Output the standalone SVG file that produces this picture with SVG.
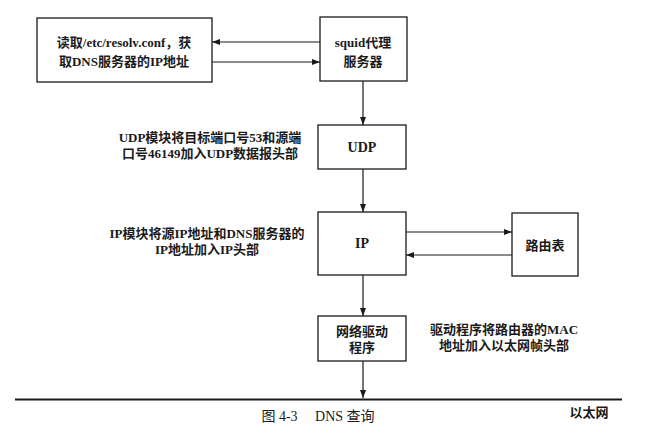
<svg xmlns="http://www.w3.org/2000/svg" width="665" height="442" viewBox="0 0 665 442">
<style>
.box{fill:#fff;stroke:#1a1a1a;stroke-width:1.3}
.ln{fill:none;stroke:#1a1a1a;stroke-width:1.2}
text{font-family:"Liberation Serif","Noto Sans CJK SC",serif;font-size:13px;font-weight:bold;fill:#1a1a1a}
.c{text-anchor:middle}
.big{font-size:14px}
.cap{font-weight:normal;font-size:14px}
</style>
<defs>
<marker id="ah" viewBox="0 0 8 6" refX="8" refY="3" markerWidth="8" markerHeight="6" markerUnits="userSpaceOnUse" orient="auto">
<path d="M0,0 L8,3 L0,6 Z" fill="#1a1a1a"/>
</marker>
</defs>
<rect width="665" height="442" fill="#fff"/>
<g id="connectors">
<line class="ln" x1="320" y1="42" x2="212" y2="42" marker-end="url(#ah)"/>
<line class="ln" x1="212" y1="62" x2="320" y2="62" marker-end="url(#ah)"/>
<line class="ln" x1="363" y1="81" x2="363" y2="125" marker-end="url(#ah)"/>
<line class="ln" x1="363" y1="169" x2="363" y2="212" marker-end="url(#ah)"/>
<line class="ln" x1="406" y1="232" x2="512" y2="232" marker-end="url(#ah)"/>
<line class="ln" x1="512" y1="255" x2="406" y2="255" marker-end="url(#ah)"/>
<line class="ln" x1="363" y1="275" x2="363" y2="316" marker-end="url(#ah)"/>
<line class="ln" x1="363" y1="361" x2="363" y2="398" marker-end="url(#ah)"/>
</g>
<g id="ethernet">
<line x1="15" y1="399.5" x2="622" y2="399.5" stroke="#1a1a1a" stroke-width="2"/>
<text x="589" y="417" class="c">以太网</text>
</g>
<g id="resolv">
<rect class="box" x="37" y="18" width="175" height="64"/>
<text x="124" y="47" class="c">读取/etc/resolv.conf，获</text>
<text x="124" y="66" class="c">取DNS服务器的IP地址</text>
</g>
<g id="squid">
<rect class="box" x="320" y="17" width="87" height="64"/>
<text x="363" y="47" class="c">squid代理</text>
<text x="363" y="66" class="c">服务器</text>
</g>
<g id="udp">
<rect class="box" x="318" y="125" width="88" height="44"/>
<text x="362" y="152" class="c big">UDP</text>
</g>
<g id="udp-note">
<text x="210" y="142" class="c">UDP模块将目标端口号53和源端</text>
<text x="210" y="158" class="c">口号46149加入UDP数据报头部</text>
</g>
<g id="ip">
<rect class="box" x="318" y="212" width="88" height="63"/>
<text x="362" y="248" class="c big">IP</text>
</g>
<g id="ip-note">
<text x="207" y="238" class="c">IP模块将源IP地址和DNS服务器的</text>
<text x="207" y="254" class="c">IP地址加入IP头部</text>
</g>
<g id="route">
<rect class="box" x="512" y="213" width="66" height="63"/>
<text x="545" y="250" class="c">路由表</text>
</g>
<g id="driver">
<rect class="box" x="318" y="316" width="88" height="45"/>
<text x="362" y="336" class="c">网络驱动</text>
<text x="362" y="352" class="c">程序</text>
</g>
<g id="driver-note">
<text x="504" y="334" class="c">驱动程序将路由器的MAC</text>
<text x="504" y="350" class="c">地址加入以太网帧头部</text>
</g>
<text x="318" y="421" class="c cap">图 4-3　 DNS 查询</text>
</svg>
